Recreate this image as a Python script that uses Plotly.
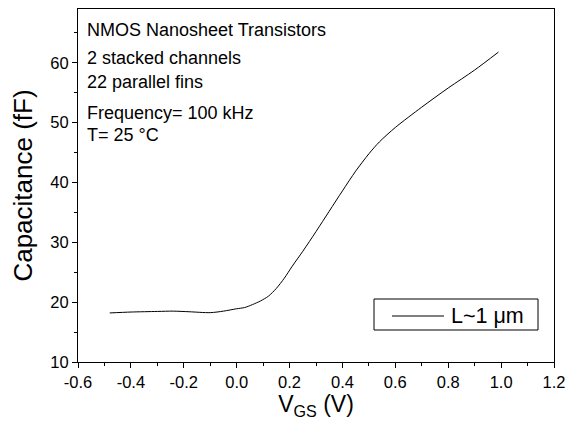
import plotly.graph_objects as go

vgs = [-0.48, -0.40, -0.30, -0.24, -0.18, -0.10, -0.05, 0.00, 0.03, 0.06, 0.09,
       0.12, 0.15, 0.18, 0.21, 0.25, 0.30, 0.35, 0.40, 0.45, 0.50, 0.54,
       0.60, 0.70, 0.80, 0.90, 0.99]
cap = [18.2, 18.35, 18.45, 18.5, 18.4, 18.25, 18.5, 18.9, 19.1, 19.6, 20.2,
       21.0, 22.3, 24.0, 26.0, 28.5, 31.8, 35.2, 38.6, 41.9, 44.8, 46.8,
       49.2, 52.6, 55.8, 58.8, 61.8]
series_name = "L~1 μm"
x_tickvals = [-0.6, -0.4, -0.2, 0.0, 0.2, 0.4, 0.6, 0.8, 1.0, 1.2]
x_ticktext = ["-0.6", "-0.4", "-0.2", "0.0", "0.2", "0.4", "0.6", "0.8", "1.0", "1.2"]
y_tickvals = [10, 20, 30, 40, 50, 60]
y_ticktext = ["10", "20", "30", "40", "50", "60"]
info_lines = ["NMOS Nanosheet Transistors", "2 stacked channels", "22 parallel fins",
              "Frequency= 100 kHz", "T= 25 °C"]
info_y = [37, 65.5, 89, 120, 142.5]  # baseline pixel rows (layout)

FONT = "Liberation Sans, Arial, sans-serif"
W, H = 581, 421
ml, mr, mt, mb = 78, 27, 9, 59
pw, ph = W - ml - mr, H - mt - mb


def px(xp):
    return (xp - ml) / pw


def py(yp):
    return (H - mb - yp) / ph


fig = go.Figure()
fig.add_trace(go.Scatter(x=vgs, y=cap, mode="lines", name=series_name, showlegend=False,
                         line=dict(color="black", width=1, shape="spline", smoothing=0.8)))

for txt, yb in zip(info_lines, info_y):
    fig.add_annotation(text=txt, xref="paper", yref="paper",
                       x=px(85), y=py(yb), xanchor="left", yanchor="bottom",
                       showarrow=False, yshift=-5,
                       font=dict(family=FONT, size=18, color="black"))

# legend box (drawn manually to match the reference's proportions)
fig.add_shape(type="rect", xref="paper", yref="paper",
              x0=px(374), x1=px(538), y0=py(330), y1=py(299),
              line=dict(color="black", width=1), fillcolor="white")
fig.add_shape(type="line", xref="paper", yref="paper",
              x0=px(392), x1=px(444), y0=py(316), y1=py(316),
              line=dict(color="black", width=1))
fig.add_annotation(text=series_name, xref="paper", yref="paper",
                   x=px(449), y=py(323.5), xanchor="left", yanchor="bottom",
                   showarrow=False, yshift=-6,
                   font=dict(family=FONT, size=21.5, color="black"))

axis_common = dict(showline=True, linecolor="black", linewidth=1, mirror=True,
                   ticks="outside", ticklen=5, tickwidth=1, tickcolor="black",
                   showgrid=False, zeroline=False,
                   tickfont=dict(family=FONT, size=16.5, color="black"))
fig.update_xaxes(range=[-0.6, 1.2], tickvals=x_tickvals, ticktext=x_ticktext,
                 minor=dict(dtick=0.1, tick0=-0.6, ticks="outside", ticklen=3, tickcolor="black"),
                 title=dict(text="V<sub>GS</sub> (V)", font=dict(family=FONT, size=23, color="black"),
                            standoff=0),
                 **axis_common)
fig.update_yaxes(range=[10, 69], tickvals=y_tickvals, ticktext=y_ticktext,
                 minor=dict(dtick=5, tick0=10, ticks="outside", ticklen=3, tickcolor="black"),
                 title=dict(text="Capacitance (fF)", font=dict(family=FONT, size=26, color="black"),
                            standoff=10),
                 **axis_common)
fig.update_layout(width=W, height=H, margin=dict(l=ml, r=mr, t=mt, b=mb),
                  plot_bgcolor="white", paper_bgcolor="white", showlegend=False)
fig.write_html("out.html")
